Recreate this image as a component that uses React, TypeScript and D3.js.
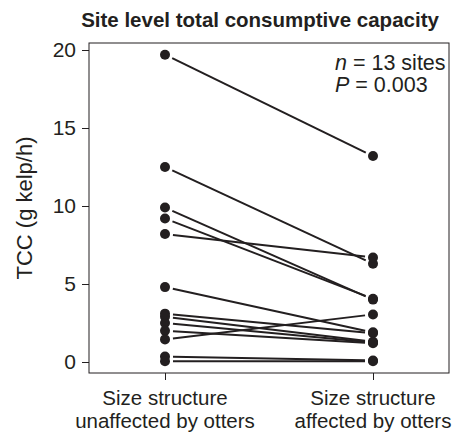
import { useEffect, useRef } from 'react';
import * as d3 from 'd3';

const groups = ['unaffected', 'affected'];
const groupLabels = [
  ['Size structure', 'unaffected by otters'],
  ['Size structure', 'affected by otters'],
];
const before = [19.7, 12.5, 9.9, 9.2, 8.2, 4.8, 3.1, 2.9, 2.5, 2.0, 1.45, 0.35, 0.05];
const after = [13.2, 6.3, 4.0, 4.05, 6.7, 1.9, 1.85, 1.3, 1.25, 1.2, 3.05, 0.1, 0.05];
const yTicks = [0, 5, 10, 15, 20];

const W = 457;
const H = 437;
const BOX = { left: 89, top: 43, right: 449, bottom: 373 };
const FONT = 'Liberation Sans, Arial, Helvetica, sans-serif';
const INK = '#231f20';

export default function App() {
  const ref = useRef<SVGSVGElement>(null);

  useEffect(() => {
    const svg = d3.select(ref.current);
    svg.selectAll('*').remove();

    const x = d3.scalePoint<string>().domain(groups).range([165, 373]);
    const y = d3.scaleLinear().domain([0, 20]).range([362, 50]);

    // Title
    svg.append('text')
      .attr('x', 260).attr('y', 27)
      .attr('text-anchor', 'middle')
      .attr('font-family', FONT).attr('font-weight', 'bold')
      .attr('font-size', 20.5).attr('fill', INK)
      .text('Site level total consumptive capacity');

    // Frame
    svg.append('rect')
      .attr('x', BOX.left).attr('y', BOX.top)
      .attr('width', BOX.right - BOX.left).attr('height', BOX.bottom - BOX.top)
      .attr('fill', 'none').attr('stroke', INK).attr('stroke-width', 1);

    // Y axis
    const yAxis = svg.append('g')
      .attr('transform', `translate(${BOX.left},0)`)
      .call(d3.axisLeft(y).tickValues(yTicks).tickSize(7).tickPadding(6).tickFormat(d3.format('d')));
    yAxis.select('.domain').remove();
    yAxis.selectAll('line').attr('stroke', INK);
    yAxis.selectAll('text')
      .attr('font-family', FONT).attr('font-size', 21).attr('fill', INK);

    // X axis
    const xAxis = svg.append('g')
      .attr('transform', `translate(0,${BOX.bottom})`)
      .call(d3.axisBottom(x).tickSize(7).tickFormat(() => ''));
    xAxis.select('.domain').remove();
    xAxis.selectAll('line').attr('stroke', INK);

    groups.forEach((g, i) => {
      const t = svg.append('text')
        .attr('x', x(g)!).attr('y', 405)
        .attr('text-anchor', 'middle')
        .attr('font-family', FONT).attr('font-size', 20.5).attr('fill', INK);
      groupLabels[i].forEach((line, j) => {
        t.append('tspan').attr('x', x(g)!).attr('dy', j === 0 ? 0 : 23).text(line);
      });
    });

    // Y label
    svg.append('text')
      .attr('transform', `translate(32,${(BOX.top + BOX.bottom) / 2}) rotate(-90)`)
      .attr('text-anchor', 'middle')
      .attr('font-family', FONT).attr('font-size', 22).attr('fill', INK)
      .text('TCC (g kelp/h)');

    // Paired lines, trimmed short of the dots
    const gap = 8;
    before.forEach((b, i) => {
      const x1 = x(groups[0])!, y1 = y(b);
      const x2 = x(groups[1])!, y2 = y(after[i]);
      const len = Math.hypot(x2 - x1, y2 - y1);
      const ux = (x2 - x1) / len, uy = (y2 - y1) / len;
      svg.append('line')
        .attr('x1', x1 + ux * gap).attr('y1', y1 + uy * gap)
        .attr('x2', x2 - ux * gap).attr('y2', y2 - uy * gap)
        .attr('stroke', INK).attr('stroke-width', 2);
    });

    // Dots
    [before, after].forEach((vals, gi) => {
      svg.append('g').selectAll('circle')
        .data(vals)
        .enter()
        .append('circle')
        .attr('cx', x(groups[gi])!)
        .attr('cy', (d) => y(d))
        .attr('r', 5)
        .attr('fill', INK);
    });

    // Annotation
    const ann = svg.append('text')
      .attr('font-family', FONT).attr('font-size', 21.5).attr('fill', INK);
    ann.append('tspan').attr('x', 335).attr('y', 70).attr('font-style', 'italic').text('n');
    ann.append('tspan').text(' = 13 sites');
    const ann2 = svg.append('text')
      .attr('font-family', FONT).attr('font-size', 21.5).attr('fill', INK);
    ann2.append('tspan').attr('x', 335).attr('y', 92).attr('font-style', 'italic').text('P');
    ann2.append('tspan').text(' = 0.003');
  }, []);

  return (
    <svg ref={ref} width={W} height={H}
      style={{ position: 'absolute', left: 0, top: 0, background: '#fff' }} />
  );
}
